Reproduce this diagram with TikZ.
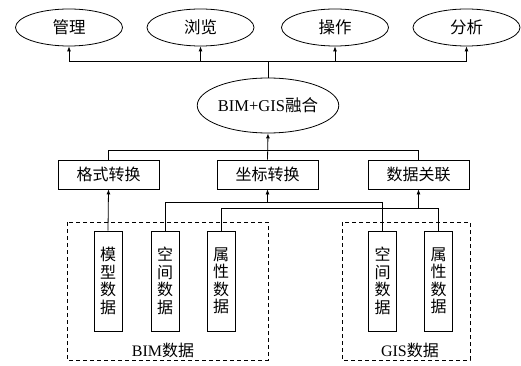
\documentclass[tikz,border=0pt]{standalone}
\usepackage{fontspec}
\setmainfont{Liberation Serif}
\newfontfamily\cjk{Noto Sans CJK SC}
\usetikzlibrary{shapes.geometric,arrows.meta}
\begin{document}
\begin{tikzpicture}[x=1pt,y=-1pt,
  line width=0.8pt,
  arr/.style={-{Latex[length=5pt,width=4pt]}},
  oval/.style={draw,ellipse,minimum width=107pt,minimum height=37pt,inner sep=0pt,font=\fontsize{16.5}{16.5}\selectfont},
  hbox/.style={draw,rectangle,minimum width=101pt,minimum height=29pt,inner sep=0pt,font=\cjk\fontsize{16}{16}\selectfont},
  vbox/.style={draw,rectangle,minimum width=28pt,minimum height=100pt,inner sep=0pt,align=center,font=\cjk\fontsize{16}{17.5}\selectfont},
  group/.style={draw,dashed,line width=0.7pt,dash pattern=on 4pt off 3pt},
  lbl/.style={font=\fontsize{16}{16}\selectfont}]
\useasboundingbox (0,0) rectangle (521,366);
% top ellipses
\node[oval] (e1) at (69,27.5) {\cjk 管理};
\node[oval] (e2) at (200.5,27.5) {\cjk 浏览};
\node[oval] (e3) at (335,27.5) {\cjk 操作};
\node[oval] (e4) at (466.5,27.5) {\cjk 分析};
% fusion
\node[oval,minimum width=130pt,minimum height=55pt] (f) at (268,105.5) {BIM+GIS{\cjk 融合}};
\coordinate (bus) at (268,61);
\draw (f.north) -- (bus);
\draw (e1.south |- bus) -- (e4.south |- bus);
\foreach \e in {e1,e2,e3,e4} \draw[arr] (\e.south |- bus) -- (\e.south);
% middle boxes
\node[hbox] (b1) at (108.5,174.5) {格式转换};
\node[hbox] (b2) at (267.5,174.5) {坐标转换};
\node[hbox] (b3) at (418.5,174.5) {数据关联};
\coordinate (mid) at (268,150);
\draw (b1.north) -- (b1.north |- mid) -- (b3.north |- mid) -- (b3.north);
\draw[arr] (b2.north) -- (f.south);
% dashed groups
\draw[group] (67,222) rectangle (268,360);
\draw[group] (342,222) rectangle (470,360);
\node[lbl] (lb) at (163,350) {BIM{\cjk 数据}};
\node[lbl] (lg) at (410,350) {GIS{\cjk 数据}};
% vertical data boxes
\node[vbox] (m1) at (108,281) {模\\型\\数\\据};
\node[vbox] (m2) at (165,281) {空\\间\\数\\据};
\node[vbox] (m3) at (221,281) {属\\性\\数\\据};
\node[vbox] (g1) at (382.5,281) {空\\间\\数\\据};
\node[vbox] (g2) at (438.5,281) {属\\性\\数\\据};
% connections
\draw[arr] (m1.north) -- (b1.south);
\coordinate (l1) at (268,202);
\coordinate (l2) at (418,208);
\draw (m2.north) -- (m2.north |- l1) -- (g1.north |- l1) -- (g1.north);
\draw (m3.north) -- (m3.north |- l2) -- (g2.north |- l2) -- (g2.north);
\draw[arr] (b2.south |- l1) -- (b2.south);
\draw[arr] (b3.south |- l2) -- (b3.south);
\end{tikzpicture}
\end{document}
